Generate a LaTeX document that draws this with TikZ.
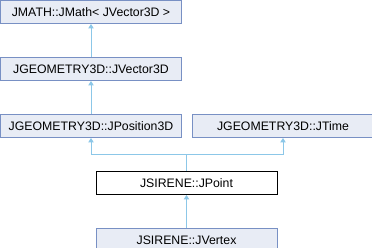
\documentclass[tikz,border=0pt]{standalone}
\usepackage{fontspec}
\setmainfont{Liberation Sans}
\usetikzlibrary{positioning,arrows.meta}
\definecolor{edgeblue}{HTML}{8CC7E8}
\definecolor{boxline}{HTML}{7890C4}
\definecolor{boxfill}{HTML}{E8ECF5}

\begin{document}
\begin{tikzpicture}[
    x=1pt, y=1pt,
    node distance=33pt and 10pt,
    cls/.style={draw=boxline, fill=boxfill, line width=1pt, minimum width=181pt,
                minimum height=23pt, inner sep=0pt,
                font=\fontsize{12.3}{14}\selectfont},
    self/.style={cls, draw=black, fill=white},
    inherit/.style={{Triangle[length=4.5pt,width=5.5pt]}-, draw=edgeblue, line width=1pt},
  ]
  \useasboundingbox (0,0) rectangle (372,-248);
  \node[cls] at (91,-12)            (jmath)   {JMATH::JMath< JVector3D >};
  \node[cls, below=of jmath]        (jvec)    {JGEOMETRY3D::JVector3D};
  \node[cls, below=of jvec]         (jpos)    {JGEOMETRY3D::JPosition3D};
  \node[cls, right=of jpos]         (jtime)   {JGEOMETRY3D::JTime};
  \node[self, below=33pt of jpos.south east, anchor=north, xshift=4.5pt] (jpoint) {JSIRENE::JPoint};
  \node[cls, below=of jpoint]       (jvertex) {JSIRENE::JVertex};

  \coordinate[above=16.5pt of jpoint.north] (fork);
  \draw[inherit] (jmath) -- (jvec);
  \draw[inherit] (jvec) -- (jpos);
  \draw[inherit] (jpos) |- (fork);
  \draw[inherit] (jtime) |- (fork);
  \draw[draw=edgeblue, line width=1pt] (fork) -- (jpoint);
  \draw[inherit] (jpoint) -- (jvertex);
\end{tikzpicture}
\end{document}
